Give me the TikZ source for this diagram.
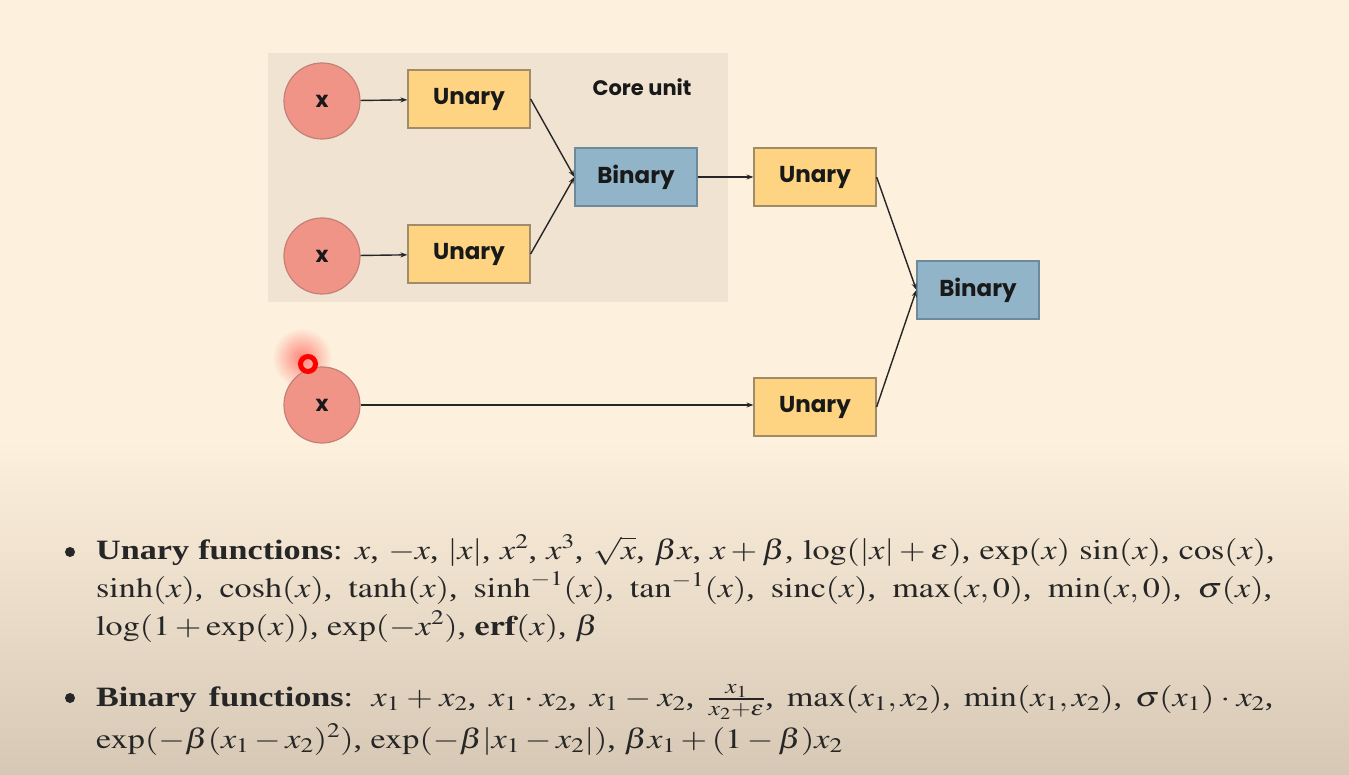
\documentclass[tikz,border=0pt]{standalone}
\usepackage{mathptmx}
\usepackage[no-math]{fontspec}
\setmainfont{Liberation Serif}
\newfontfamily\diagfont{Poppins}
\usetikzlibrary{arrows.meta}
\definecolor{bgtop}{RGB}{253,240,221}
\definecolor{bgbot}{RGB}{214,200,181}
\definecolor{corebg}{RGB}{240,227,210}
\definecolor{xfill}{RGB}{241,148,136}
\definecolor{xdraw}{RGB}{196,128,118}
\definecolor{ufill}{RGB}{254,212,130}
\definecolor{udraw}{RGB}{160,140,105}
\definecolor{bfill}{RGB}{146,180,201}
\definecolor{bdraw}{RGB}{108,138,155}
\definecolor{txt}{RGB}{25,25,25}
\tikzset{
  inp/.style={circle, fill=xfill, draw=xdraw, line width=1.2pt, minimum size=76pt, inner sep=0pt,
    font=\diagfont\bfseries\fontsize{22}{22}\selectfont, text=txt},
  ubox/.style={rectangle, fill=ufill, draw=udraw, line width=1.2pt, minimum width=122pt, minimum height=58pt,
    inner sep=0pt, font=\diagfont\bfseries\fontsize{23}{23}\selectfont, text=txt},
  bbox/.style={ubox, fill=bfill, draw=bdraw},
  conn/.style={-{Stealth[length=7pt,width=5pt]}, line width=1.4pt, draw=black!85},
  fline/.style={anchor=base west, inner sep=0pt, text=black!85, font=\fontsize{28}{28}\selectfont},
  bul/.style={circle, fill=black!85, minimum size=10pt, inner sep=0pt},
}
\begin{document}
\begin{tikzpicture}[x=1pt,y=-1pt]
\useasboundingbox (0,0) rectangle (1349,775);
% background
\fill[bgtop] (0,0) rectangle (1349,440);
\shade[top color=bgtop, bottom color=bgbot] (0,439) rectangle (1349,775);
% core unit panel
\fill[corebg] (268,53) rectangle (728,302);
\node[font=\diagfont\bfseries\fontsize{21}{21}\selectfont, text=txt] (core) at (642,87) {Core unit};
% cursor halo
\shade[inner color=red!45!bgtop, outer color=bgtop] (302,358) circle (30pt);
% nodes
\node[inp] (x1) at (322,101) {x};
\node[inp] (x2) at (322,256) {x};
\node[inp] (x3) at (322,405) {x};
\node[ubox] (u1) at (469,99) {Unary};
\node[ubox] (u2) at (469,254) {Unary};
\node[bbox] (b1) at (636,177) {Binary};
\node[ubox] (u3) at (815,177) {Unary};
\node[ubox] (u4) at (815,407) {Unary};
\node[bbox] (b2) at (978,290) {Binary};
% cursor ring
\draw[red, line width=5pt] (308,364) circle (7.5pt);
% connectors
\draw[conn] (x1) -- (u1);
\draw[conn] (x2) -- (u2);
\draw[conn] (x3.east) -- (x3.east -| u4.west);
\draw[conn] (u1.east) -- (b1.west);
\draw[conn] (u2.east) -- (b1.west);
\draw[conn] (b1) -- (u3);
\draw[conn] (u3.east) -- (b2.west);
\draw[conn] (u4.east) -- (b2.west);
% function lists
\node[bul] (bu) at (70,552) {};
\node[fline] (l1) at (96,559) {\scalebox{1.22}[1]{\hbox to 966pt{\textbf{Unary functions}: $x$, $-x$, $|x|$, $x^2$, $x^3$, $\sqrt{x}$, $\beta x$, $x+\beta$, $\log(|x|+\epsilon)$, $\exp(x)$ $\sin(x)$, $\cos(x)$,}}};
\node[fline] (l2) at (96,597) {\scalebox{1.22}[1]{\hbox to 964pt{$\sinh(x)$, $\cosh(x)$, $\tanh(x)$, $\sinh^{-1}(x)$, $\tan^{-1}(x)$, $\mathrm{sinc}(x)$, $\max(x,0)$, $\min(x,0)$, $\sigma(x)$,}}};
\node[fline] (l3) at (96,635) {\scalebox{1.22}[1]{$\log(1+\exp(x))$, $\exp(-x^2)$, $\mathbf{erf}(x)$, $\beta$}};
\node[bul] (bb) at (70,698) {};
\node[fline] (m1) at (96,706) {\scalebox{1.22}[1]{\hbox to 965pt{\textbf{Binary functions}: $x_1+x_2$, $x_1\cdot x_2$, $x_1-x_2$, $\frac{x_1}{x_2+\epsilon}$, $\max(x_1,x_2)$, $\min(x_1,x_2)$, $\sigma(x_1)\cdot x_2$,}}};
\node[fline] (m2) at (96,748) {\scalebox{1.22}[1]{$\exp(-\beta(x_1-x_2)^2)$, $\exp(-\beta|x_1-x_2|)$, $\beta x_1+(1-\beta)x_2$}};
\end{tikzpicture}
\end{document}
